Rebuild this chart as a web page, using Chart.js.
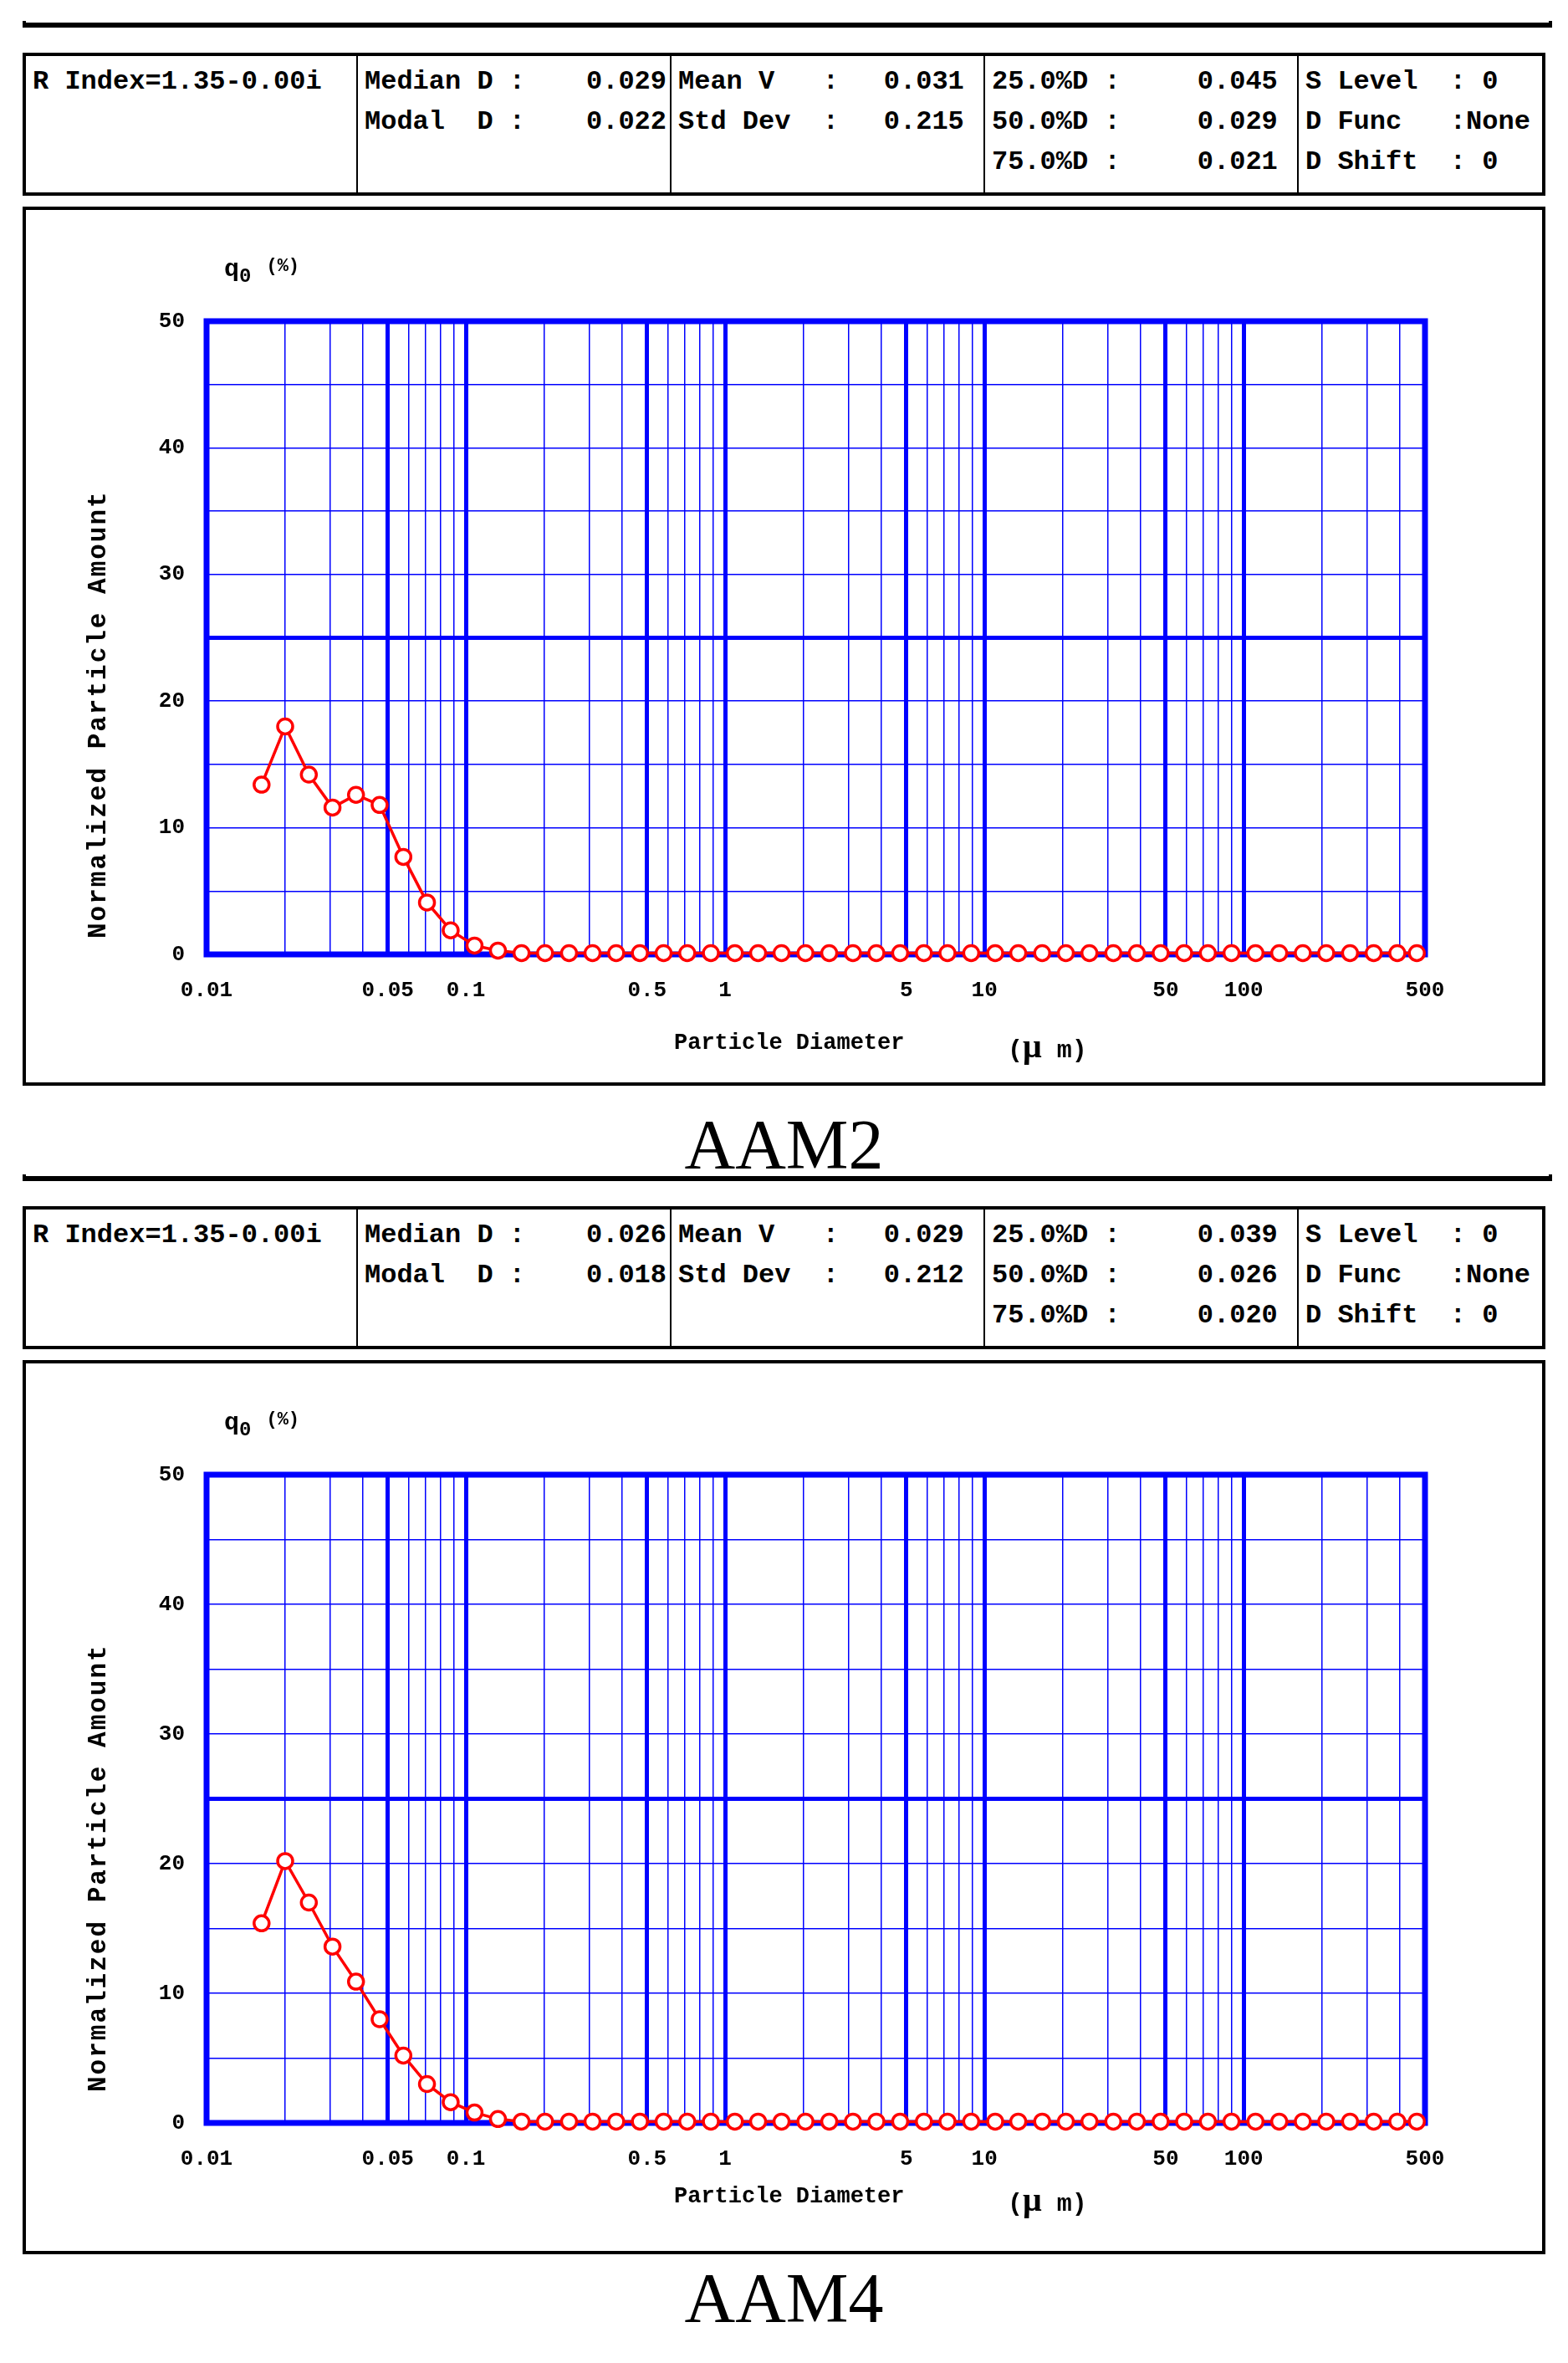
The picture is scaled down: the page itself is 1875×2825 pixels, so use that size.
<!DOCTYPE html>
<html>
<head>
<meta charset="utf-8">
<script src="https://cdn.jsdelivr.net/npm/chart.js@4"></script>
<style>
  body { margin: 0; width: 1875px; height: 2825px; background: #fff; position: relative; font-family: "Liberation Mono", monospace; }
  .abs { position: absolute; }
  .topline { left: 27px; width: 1821px; height: 8px; border: 4px solid #000; border-top: none; border-bottom: none; }
  .topline::after { content: ""; position: absolute; left: 0; right: 0; bottom: 0; height: 6px; background: #000; }
  .table { left: 27px; width: 1813px; height: 163px; border: 4px solid #000; font-weight: bold; font-size: 32px; }
  .cell { position: absolute; top: 0; bottom: 0; border-left: 2px solid #000; }
  .row { position: absolute; left: 8px; right: 6px; display: flex; justify-content: space-between; white-space: pre; }
  .box { left: 27px; width: 1813px; border: 4px solid #000; }
  .box canvas { display: block; }
  .ytitle { font-weight: bold; font-size: 31px; transform: rotate(-90deg); transform-origin: left top; white-space: pre; letter-spacing: 2px; }
  .label { font-size: 27px; font-weight: bold; white-space: pre; }
  .title { left: 0; width: 1875px; text-align: center; font-family: "Liberation Serif", serif; font-size: 84px; }
</style>
</head>
<body>
<script>
// particle diameters (um) for each measured point
const diameters = [0.0163, 0.0201, 0.0248, 0.0306, 0.0377, 0.0465, 0.0574, 0.0708, 0.0874, 0.108,
  0.133, 0.164, 0.202, 0.250, 0.308, 0.380, 0.469, 0.579, 0.714, 0.881,
  1.09, 1.34, 1.65, 2.04, 2.52, 3.11, 3.83, 4.73, 5.84, 7.20,
  8.89, 11.0, 13.5, 16.7, 20.6, 25.4, 31.4, 38.7, 47.8, 58.9,
  72.7, 89.7, 111, 137, 169, 208, 257, 317, 391, 465];
const aam2Q = [13.4, 18.0, 14.2, 11.6, 12.6, 11.8, 7.7, 4.1, 1.9, 0.7,
  0.3, 0.1, 0.1, 0.1, 0.1, 0.1, 0.1, 0.1, 0.1, 0.1,
  0.1, 0.1, 0.1, 0.1, 0.1, 0.1, 0.1, 0.1, 0.1, 0.1,
  0.1, 0.1, 0.1, 0.1, 0.1, 0.1, 0.1, 0.1, 0.1, 0.1,
  0.1, 0.1, 0.1, 0.1, 0.1, 0.1, 0.1, 0.1, 0.1, 0.1];
const aam4Q = [15.4, 20.2, 17.0, 13.6, 10.9, 8.0, 5.2, 3.0, 1.6, 0.8,
  0.3, 0.1, 0.1, 0.1, 0.1, 0.1, 0.1, 0.1, 0.1, 0.1,
  0.1, 0.1, 0.1, 0.1, 0.1, 0.1, 0.1, 0.1, 0.1, 0.1,
  0.1, 0.1, 0.1, 0.1, 0.1, 0.1, 0.1, 0.1, 0.1, 0.1,
  0.1, 0.1, 0.1, 0.1, 0.1, 0.1, 0.1, 0.1, 0.1, 0.1];
const xGrid = [0.01, 0.02, 0.03, 0.04, 0.05, 0.06, 0.07, 0.08, 0.09, 0.1,
  0.2, 0.3, 0.4, 0.5, 0.6, 0.7, 0.8, 0.9, 1, 2, 3, 4, 5, 6, 7, 8, 9, 10,
  20, 30, 40, 50, 60, 70, 80, 90, 100, 200, 300, 400, 500];
const xLabels = [0.01, 0.05, 0.1, 0.5, 1, 5, 10, 50, 100, 500];
const xThick = [0.05, 0.1, 0.5, 1, 5, 10, 50, 100];
const yLabels = [0, 10, 20, 30, 40, 50];
const yThick = [25];

const panels = [
  { top: 45, boxH: 1051, name: 'AAM2', q: aam2Q,
    stats: ['0.029', '0.022', '0.031', '0.215', '0.045', '0.029', '0.021'] },
  { top: 1424, boxH: 1069, name: 'AAM4', q: aam4Q,
    stats: ['0.026', '0.018', '0.029', '0.212', '0.039', '0.026', '0.020'] }
];

function el(cls, style, html) {
  const d = document.createElement('div');
  d.className = cls;
  Object.assign(d.style, style);
  if (html !== undefined) d.innerHTML = html;
  document.body.appendChild(d);
  return d;
}

function row(parent, y, left, right) {
  const r = document.createElement('div');
  r.className = 'row';
  r.style.top = y + 'px';
  r.innerHTML = '<span>' + left + '</span><span>' + right + '</span>';
  parent.appendChild(r);
}

const framePlugin = {
  id: 'frame',
  beforeDatasetsDraw(chart) {
    const a = chart.chartArea, c = chart.ctx;
    c.save();
    c.strokeStyle = '#0000ff';
    c.lineWidth = 7;
    c.strokeRect(a.left, a.top, a.right - a.left, a.bottom - a.top);
    c.restore();
  }
};

panels.forEach(p => {
  el('abs topline', { top: (p.top - 20) + 'px' });

  // info table
  const t = el('abs table', { top: (p.top + 18) + 'px' });
  const cols = [0, 395, 770, 1145, 1520, 1813];
  const cells = [];
  for (let i = 0; i < 5; i++) {
    const c = document.createElement('div');
    c.className = 'cell';
    c.style.left = cols[i] + 'px';
    c.style.width = (cols[i + 1] - cols[i]) + 'px';
    if (i === 0) c.style.borderLeft = 'none';
    t.appendChild(c);
    cells.push(c);
  }
  const s = p.stats;
  row(cells[0], 12, 'R Index=1.35-0.00i', '');
  row(cells[1], 12, 'Median D :', s[0]);
  row(cells[1], 60, 'Modal  D :', s[1]);
  row(cells[2], 12, 'Mean V   :', s[2] + ' ');
  row(cells[2], 60, 'Std Dev  :', s[3] + ' ');
  row(cells[3], 12, '25.0%D :', s[4] + ' ');
  row(cells[3], 60, '50.0%D :', s[5] + ' ');
  row(cells[3], 108, '75.0%D :', s[6] + ' ');
  row(cells[4], 12, 'S Level  : 0', '');
  row(cells[4], 60, 'D Func   :None', '');
  row(cells[4], 108, 'D Shift  : 0', '');

  // chart box
  const boxTop = p.top + 202;
  const box = el('abs box', { top: boxTop + 'px', height: (p.boxH - 8) + 'px' });
  const cv = document.createElement('canvas');
  cv.width = 1813;
  cv.height = p.boxH - 8;
  box.appendChild(cv);

  el('abs ytitle', { left: '100px', top: (boxTop + 875) + 'px' }, 'Normalized Particle Amount');
  el('abs label', { left: '268px', top: (boxTop + 58) + 'px', fontSize: '30px' },
    'q<sub style="font-size:24px">0</sub> <span style="font-size:22px;vertical-align:6px">(%)</span>');
  el('abs label', { left: '806px', top: (boxTop + 985) + 'px' }, 'Particle Diameter');
  el('abs label', { left: '1205px', top: (boxTop + 980) + 'px', fontSize: '30px' },
    '(<span style="font-size:40px;font-family:\'Liberation Serif\'">μ</span> m)');
  el('abs title', { top: (p.top + 1275) + 'px' }, p.name);

  new Chart(cv, {
    type: 'line',
    data: {
      datasets: [{
        data: diameters.map((d, i) => ({ x: d, y: p.q[i] })),
        borderColor: '#ff0000',
        borderWidth: 3.5,
        pointRadius: 9,
        pointBorderWidth: 3.5,
        pointBackgroundColor: '#ffffff',
        pointBorderColor: '#ff0000',
        tension: 0,
        clip: false
      }]
    },
    options: {
      responsive: false,
      animation: false,
      devicePixelRatio: 1,
      layout: { padding: { left: 0, right: 140, top: 133, bottom: 0 } },
      plugins: { legend: { display: false }, tooltip: { enabled: false } },
      scales: {
        x: {
          type: 'logarithmic',
          min: 0.01, max: 500,
          afterBuildTicks: sc => { sc.ticks = xGrid.map(v => ({ value: v })); },
          afterFit: sc => { sc.height = 153; },
          ticks: {
            autoSkip: false, maxRotation: 0, padding: 28, color: '#000',
            font: { family: 'Liberation Mono', size: 26, weight: 'bold' },
            callback: v => xLabels.includes(v) ? String(v) : ''
          },
          grid: {
            color: '#0000ff', drawTicks: false,
            lineWidth: c => xThick.includes(c.tick && c.tick.value) ? 5 : 1.5
          },
          border: { display: false }
        },
        y: {
          min: 0, max: 50,
          afterBuildTicks: sc => {
            const ts = [];
            for (let v = 0; v <= 50; v += 5) ts.push({ value: v });
            sc.ticks = ts;
          },
          afterFit: sc => { sc.width = 216; },
          ticks: {
            padding: 26, color: '#000',
            font: { family: 'Liberation Mono', size: 26, weight: 'bold' },
            callback: v => yLabels.includes(v) ? String(v) : ''
          },
          grid: {
            color: '#0000ff', drawTicks: false,
            lineWidth: c => yThick.includes(c.tick && c.tick.value) ? 5 : 1.5
          },
          border: { display: false }
        }
      }
    },
    plugins: [framePlugin]
  });
});
</script>
</body>
</html>
